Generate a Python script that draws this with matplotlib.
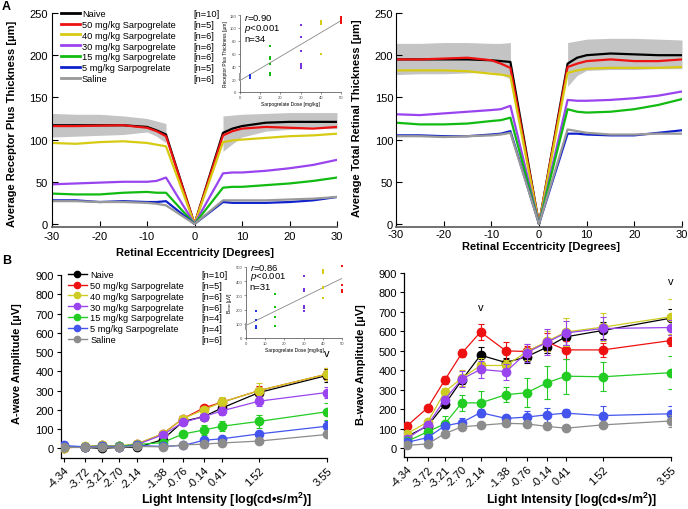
import matplotlib
matplotlib.use('Agg')
import matplotlib.pyplot as plt
import numpy as np
from matplotlib.lines import Line2D

plt.rcParams['font.family'] = ['Liberation Sans', 'DejaVu Sans']
plt.rcParams['mathtext.fontset'] = 'custom'
plt.rcParams['mathtext.rm'] = 'Liberation Sans'
plt.rcParams['mathtext.it'] = 'Liberation Sans:italic'
plt.rcParams['mathtext.bf'] = 'Liberation Sans:bold'
plt.rcParams['axes.unicode_minus'] = False

# ---------------- data ----------------
groups = ['Naive', '50 mg/kg Sarpogrelate', '40 mg/kg Sarpogrelate', '30 mg/kg Sarpogrelate',
          '15 mg/kg Sarpogrelate', '5 mg/kg Sarpogrelate', 'Saline']
n_oct = ['[n=10]', '[n=5]', '[n=6]', '[n=6]', '[n=6]', '[n=5]', '[n=6]']
n_erg = ['[n=10]', '[n=5]', '[n=6]', '[n=6]', '[n=4]', '[n=4]', '[n=6]']
line_colors = ['#000000', '#ee1111', '#d6cb12', '#9944ee', '#11bb11', '#1122cc', '#999999']
marker_colors = ['#000000', '#ee1111', '#cccc22', '#9944ee', '#22cc22', '#4455ee', '#8c8c8c']

ecc = [-30, -25, -20, -15, -10, -8, -6, 0, 6, 8, 10, 15, 20, 25, 30]
# Receptor plus thickness (um)
rpt_naive = [117, 117, 117, 117, 115, 111, 106, 0, 108, 113, 116, 120, 121, 121, 121]
rpt_50 = [116, 116, 116.5, 117, 114, 110, 104, 0, 105, 110, 113, 115, 114, 113, 115]
rpt_40 = [96, 95, 97, 98, 96, 94, 92, 0, 97, 99, 100, 102, 104, 105, 107]
rpt_30 = [47, 48, 49, 50, 50, 51, 55, 0, 60, 61, 61, 63, 66, 70, 76]
rpt_15 = [36, 35, 35, 37, 38, 37, 37, 0, 43, 44, 44, 46, 48, 51, 55]
rpt_5 = [28, 28, 26, 27, 26, 26, 27, 0, 26, 25, 25, 25, 26, 28, 32]
rpt_saline = [27, 27, 26, 26, 25, 24, 22, 0, 28, 28, 28, 28, 29, 30, 32]
rpt_series = [rpt_naive, rpt_50, rpt_40, rpt_30, rpt_15, rpt_5, rpt_saline]

# Total retinal thickness (um)
trt_naive = [195, 195, 195, 195, 194, 193, 192, 0, 190, 197, 200, 202, 201, 200, 200]
trt_50 = [195, 195, 196, 197, 194, 190, 185, 0, 186, 190, 193, 195, 193, 193, 195]
trt_40 = [182, 182, 182, 181, 178, 177, 175, 0, 179, 182, 184, 185, 185, 185, 186]
trt_30 = [130, 129, 131, 133, 135, 136, 140, 0, 147, 146, 146, 147, 149, 152, 157]
trt_15 = [120, 118, 118, 119, 122, 123, 126, 0, 136, 133, 132, 133, 136, 141, 148]
trt_5 = [105, 105, 104, 104, 106, 107, 110, 0, 107, 107, 106, 105, 105, 108, 111]
trt_saline = [104, 104, 103, 104, 105, 106, 108, 0, 112, 110, 108, 106, 106, 107, 107]
trt_series = [trt_naive, trt_50, trt_40, trt_30, trt_15, trt_5, trt_saline]

# Naive SD band
band_ecc_left = [-30, -25, -20, -15, -10, -8, -6]
band_ecc_right = [6, 8, 10, 15, 20, 25, 30]
rpt_band_up_left = [131, 130, 130, 128, 125, 122, 119]
rpt_band_lo_left = [103, 104, 105, 106, 109, 104, 96]
rpt_band_up_right = [128, 129, 130, 131, 132, 132, 132]
rpt_band_lo_right = [86, 95, 103, 110, 112, 113, 113]
trt_band_up_left = [214, 214, 215, 215, 214, 214, 215]
trt_band_lo_left = [177, 178, 178, 179, 180, 177, 172]
trt_band_up_right = [215, 217, 219, 220, 220, 219, 218]
trt_band_lo_right = [163, 176, 182, 183, 183, 184, 184]

# ERG
light = [-4.34, -3.72, -3.21, -2.70, -2.14, -1.38, -0.76, -0.14, 0.41, 1.52, 3.55]
light_labels = ['-4.34', '-3.72', '-3.21', '-2.70', '-2.14', '-1.38', '-0.76', '-0.14', '0.41', '1.52', '3.55']

awave_naive = [5, 5, 0, 5, 5, 45, 140, 165, 210, 290, 378]
awave_50 = [3, 8, 15, 10, 22, 75, 155, 210, 240, 300, 385]
awave_40 = [3, 10, 15, 12, 25, 75, 155, 200, 240, 300, 385]
awave_30 = [5, 8, 12, 10, 20, 70, 135, 165, 195, 245, 290]
awave_15 = [5, 8, 12, 10, 20, 30, 75, 95, 115, 140, 190]
awave_5 = [15, 8, 10, 8, 15, 10, 15, 42, 50, 75, 115]
awave_saline = [5, 5, 8, 5, 10, 8, 18, 22, 28, 38, 72]
awave_series = [awave_naive, awave_50, awave_40, awave_30, awave_15, awave_5, awave_saline]

awave_err_naive = [3, 3, 3, 3, 3, 8, 10, 15, 20, 20, 35]
awave_err_50 = [3, 3, 3, 3, 3, 8, 10, 12, 20, 25, 30]
awave_err_40 = [3, 3, 3, 3, 3, 8, 12, 15, 25, 40, 30]
awave_err_30 = [3, 3, 3, 3, 3, 5, 10, 12, 20, 25, 30]
awave_err_15 = [2, 2, 2, 2, 2, 8, 10, 25, 25, 35, 45]
awave_err_5 = [5, 2, 2, 2, 2, 5, 10, 10, 15, 15, 25]
awave_err_saline = [2, 2, 2, 2, 2, 2, 5, 5, 5, 5, 8]
awave_err = [awave_err_naive, awave_err_50, awave_err_40, awave_err_30, awave_err_15, awave_err_5, awave_err_saline]

bwave_naive = [60, 115, 225, 350, 478, 440, 470, 520, 572, 605, 668]
bwave_50 = [115, 208, 350, 488, 597, 500, 497, 545, 505, 505, 553]
bwave_40 = [75, 135, 290, 360, 425, 425, 495, 550, 597, 622, 675]
bwave_30 = [50, 120, 250, 355, 405, 393, 490, 545, 592, 615, 620]
bwave_15 = [35, 85, 125, 233, 233, 275, 285, 337, 370, 367, 388]
bwave_5 = [30, 55, 115, 132, 183, 153, 160, 172, 180, 168, 177]
bwave_saline = [15, 22, 75, 110, 118, 128, 125, 112, 103, 120, 140]
bwave_series = [bwave_naive, bwave_50, bwave_40, bwave_30, bwave_15, bwave_5, bwave_saline]

bwave_err_naive = [5, 10, 15, 20, 40, 25, 30, 30, 40, 45, 45]
bwave_err_50 = [10, 15, 20, 20, 40, 45, 30, 45, 45, 35, 30]
bwave_err_40 = [10, 15, 20, 40, 40, 30, 40, 50, 70, 70, 90]
bwave_err_30 = [10, 15, 20, 40, 45, 40, 45, 65, 60, 60, 40]
bwave_err_15 = [8, 10, 40, 40, 60, 40, 75, 85, 90, 75, 85]
bwave_err_5 = [5, 10, 15, 25, 20, 20, 30, 35, 20, 50, 40]
bwave_err_saline = [5, 5, 10, 10, 10, 10, 10, 10, 5, 10, 30]
bwave_err = [bwave_err_naive, bwave_err_50, bwave_err_40, bwave_err_30, bwave_err_15, bwave_err_5, bwave_err_saline]

# Inset scatter: dose vs receptor plus thickness / amplitude
dose_levels = [50, 40, 30, 15, 5, 0]
rpt_scatter_50 = [117, 114, 112, 110, 108]
rpt_scatter_40 = [111, 109, 108, 107, 106, 60]
rpt_scatter_30 = [104, 86, 64, 44, 40, 37]
rpt_scatter_15 = [72, 55, 51, 43, 30, 27]
rpt_scatter_5 = [22, 23, 24, 25, 26]
rpt_scatter_0 = [18, 20, 22, 24, 26, 28]
rpt_scatter = [rpt_scatter_50, rpt_scatter_40, rpt_scatter_30, rpt_scatter_15, rpt_scatter_5, rpt_scatter_0]

amp_scatter_50 = [505, 370, 340, 330, 322]
amp_scatter_40 = [480, 470, 455, 360, 355, 280]
amp_scatter_30 = [440, 345, 330, 225, 210, 190]
amp_scatter_15 = [310, 215, 150, 85]
amp_scatter_5 = [190, 125, 85, 70]
amp_scatter_0 = [60, 70, 75, 80, 90, 100]
amp_scatter = [amp_scatter_50, amp_scatter_40, amp_scatter_30, amp_scatter_15, amp_scatter_5, amp_scatter_0]
scatter_colors = ['#ee1111', '#d6cb12', '#7733dd', '#11bb11', '#2233dd', '#999999']

# ---------------- figure ----------------
W, H = 688, 510
fig = plt.figure(figsize=(W / 100, H / 100), dpi=100)


def add_px(l, t, r, b):
    return fig.add_axes([l / W, 1 - b / H, (r - l) / W, (b - t) / H])


def style_top(ax, pad):
    for s in ['top', 'right']:
        ax.spines[s].set_visible(False)
    ax.spines['left'].set_color('black')
    ax.spines['left'].set_linewidth(0.8)
    ax.spines['bottom'].set_color('#666666')
    ax.spines['bottom'].set_linewidth(1.3)
    ax.tick_params(direction='in', length=4, width=0.8, labelsize=8, pad=pad)
    ax.set_xlim(-30, 30)
    ax.set_ylim(-3, 250)
    ax.set_xticks([-30, -20, -10, 0, 10, 20, 30])
    ax.set_yticks([0, 50, 100, 150, 200, 250])


def draw_oct(ax, series, up_l, lo_l, up_r, lo_r):
    ax.fill_between(band_ecc_left, lo_l, up_l, color='#c4c4c4', lw=0, zorder=1)
    ax.fill_between(band_ecc_right, lo_r, up_r, color='#c4c4c4', lw=0, zorder=1)
    for vals, c in zip(series, line_colors):
        ax.plot(ecc, vals, color=c, lw=1.6, zorder=2, solid_joinstyle='round')


ax1 = add_px(52, 14, 337, 227.5)
draw_oct(ax1, rpt_series, rpt_band_up_left, rpt_band_lo_left, rpt_band_up_right, rpt_band_lo_right)
style_top(ax1, 3)
ax1.set_ylabel('Average Receptor Plus Thickness [µm]', fontsize=8, fontweight='bold')
ax1.set_xlabel('Retinal Eccentricity [Degrees]', fontsize=8, fontweight='bold')
ax1.yaxis.set_label_coords(-0.123, 0.485)
ax1.xaxis.set_label_coords(0.502, -0.096)

ax2 = add_px(396, 14, 682, 227.5)
draw_oct(ax2, trt_series, trt_band_up_left, trt_band_lo_left, trt_band_up_right, trt_band_lo_right)
style_top(ax2, 2)
ax2.set_ylabel('Average Total Retinal Thickness [µm]', fontsize=8, fontweight='bold')
ax2.set_xlabel('Retinal Eccentricity [Degrees]', fontsize=8, fontweight='bold')
ax2.yaxis.set_label_coords(-0.119, 0.513)
ax2.xaxis.set_label_coords(0.507, -0.068)


def style_bottom(ax, ylo):
    for s in ['top', 'right']:
        ax.spines[s].set_visible(False)
    for s in ['left', 'bottom']:
        ax.spines[s].set_linewidth(0.9)
    ax.tick_params(direction='out', length=3, width=0.8, labelsize=8, pad=2)
    ax.set_xlim(-4.43, 3.56)
    ax.set_ylim(ylo, 900)
    ax.set_yticks(np.arange(0, 901, 100))
    ax.set_xticks(light)
    ax.set_xticklabels(light_labels, rotation=45, ha='right', rotation_mode='anchor')


def draw_erg(ax, series, errs):
    for i, (vals, e, c) in enumerate(zip(series, errs, marker_colors)):
        ax.errorbar(light, vals, yerr=e, fmt='-o', color=c, ms=6, lw=0.9, elinewidth=0.8,
                    capsize=2, capthick=0.8, zorder=3 + i)


xlab = 'Light Intensity [log(cd•s/m$^\\mathbf{2}$)]'

ax3 = add_px(61, 276, 327, 459)
draw_erg(ax3, awave_series, awave_err)
style_bottom(ax3, -50)
ax3.set_ylabel('A-wave Amplitude [µV]', fontsize=8, fontweight='bold')
ax3.set_xlabel(xlab, fontsize=9, fontweight='bold')
ax3.yaxis.set_label_coords(-0.147, 0.52)
ax3.xaxis.set_label_coords(0.624, -0.175)
ax3.text(3.55, 470, 'v', ha='center', va='bottom', fontsize=8)

ax4 = add_px(404, 274, 671, 458)
draw_erg(ax4, bwave_series, bwave_err)
style_bottom(ax4, -45)
ax4.set_ylabel('B-wave Amplitude [µV]', fontsize=8, fontweight='bold')
ax4.set_xlabel(xlab, fontsize=9, fontweight='bold')
ax4.yaxis.set_label_coords(-0.142, 0.505)
ax4.xaxis.set_label_coords(0.627, -0.179)
ax4.text(-2.14, 700, 'v', ha='center', va='bottom', fontsize=8)
ax4.text(3.55, 835, 'v', ha='center', va='bottom', fontsize=8)

# ---------------- legends ----------------
leg_kw = dict(frameon=False, fontsize=6.7, borderpad=0, borderaxespad=0, labelspacing=0.2)
h_lines = [Line2D([], [], color=c, lw=2) for c in line_colors]
fig.legend(h_lines, groups, loc='upper left', bbox_to_anchor=(61 / W, 1 - 10 / H),
           handlelength=2.0, handletextpad=0.25, **leg_kw)
h_blank = [Line2D([], [], alpha=0) for _ in groups]
fig.legend(h_blank, n_oct, loc='upper left', bbox_to_anchor=(193 / W, 1 - 10 / H),
           handlelength=0, handletextpad=0, **leg_kw)

h_mk = [Line2D([], [], color=c, lw=1, marker='o', ms=4.5) for c in marker_colors]
fig.legend(h_mk, groups, loc='upper left', bbox_to_anchor=(68 / W, 1 - 271 / H),
           handlelength=2.0, handletextpad=0.4, **leg_kw)
fig.legend(h_blank, n_erg, loc='upper left', bbox_to_anchor=(201.5 / W, 1 - 271 / H),
           handlelength=0, handletextpad=0, **leg_kw)

# ---------------- insets ----------------


def draw_inset(ax, yvals, ymax, yticks, ylabel, stats):
    allx, ally = [], []
    for d, vals, c in zip(dose_levels, yvals, scatter_colors):
        ax.scatter([d] * len(vals), vals, s=2.5, color=c, marker='s', lw=0, zorder=3, clip_on=False)
        allx += [d] * len(vals)
        ally += vals
    k, b0 = np.polyfit(allx, ally, 1)
    xx = np.array([0, 50])
    ax.plot(xx, k * xx + b0, color='#888888', lw=0.6, zorder=2)
    ax.set_xlim(0, 50)
    ax.set_ylim(0, ymax)
    ax.set_xticks([0, 10, 20, 30, 40, 50])
    ax.set_yticks(yticks)
    for s in ['top', 'right']:
        ax.spines[s].set_visible(False)
    for s in ['left', 'bottom']:
        ax.spines[s].set_linewidth(0.5)
        ax.spines[s].set_color('#444444')
    ax.tick_params(direction='out', length=1.5, width=0.4, labelsize=3, pad=1, colors='#444444')
    ax.set_xlabel('Sarpogrelate Dose [mg/kg]', fontsize=3.5, labelpad=1)
    ax.set_ylabel(ylabel, fontsize=3.5, labelpad=1)
    ax.patch.set_alpha(0)
    for (txt, yy) in stats:
        ax.text(0.04, yy, txt, transform=ax.transAxes, fontsize=6.8, va='center', ha='left')


ins1 = add_px(240, 16, 341, 93)
draw_inset(ins1, rpt_scatter, 120, [0, 20, 40, 60, 80, 100, 120], 'Receptor Plus Thickness [µm]',
           [('$\\it{r}$=0.90', 0.974), ('$\\it{p}$<0.001', 0.831), ('n=34', 0.70)])

ins2 = add_px(246, 268, 342, 339)
draw_inset(ins2, amp_scatter, 500, [0, 100, 200, 300, 400, 500], 'B$_{max}$ [µV]',
           [('$\\it{r}$=0.86', 1.0), ('$\\it{p}$<0.001', 0.873), ('n=31', 0.732)])

fig.text(2 / W, 1 - 1 / H, 'A', fontsize=9, fontweight='bold', va='top', ha='left')
fig.text(2 / W, 1 - 255 / H, 'B', fontsize=9, fontweight='bold', va='top', ha='left')

fig.savefig('out.png', dpi=100)
